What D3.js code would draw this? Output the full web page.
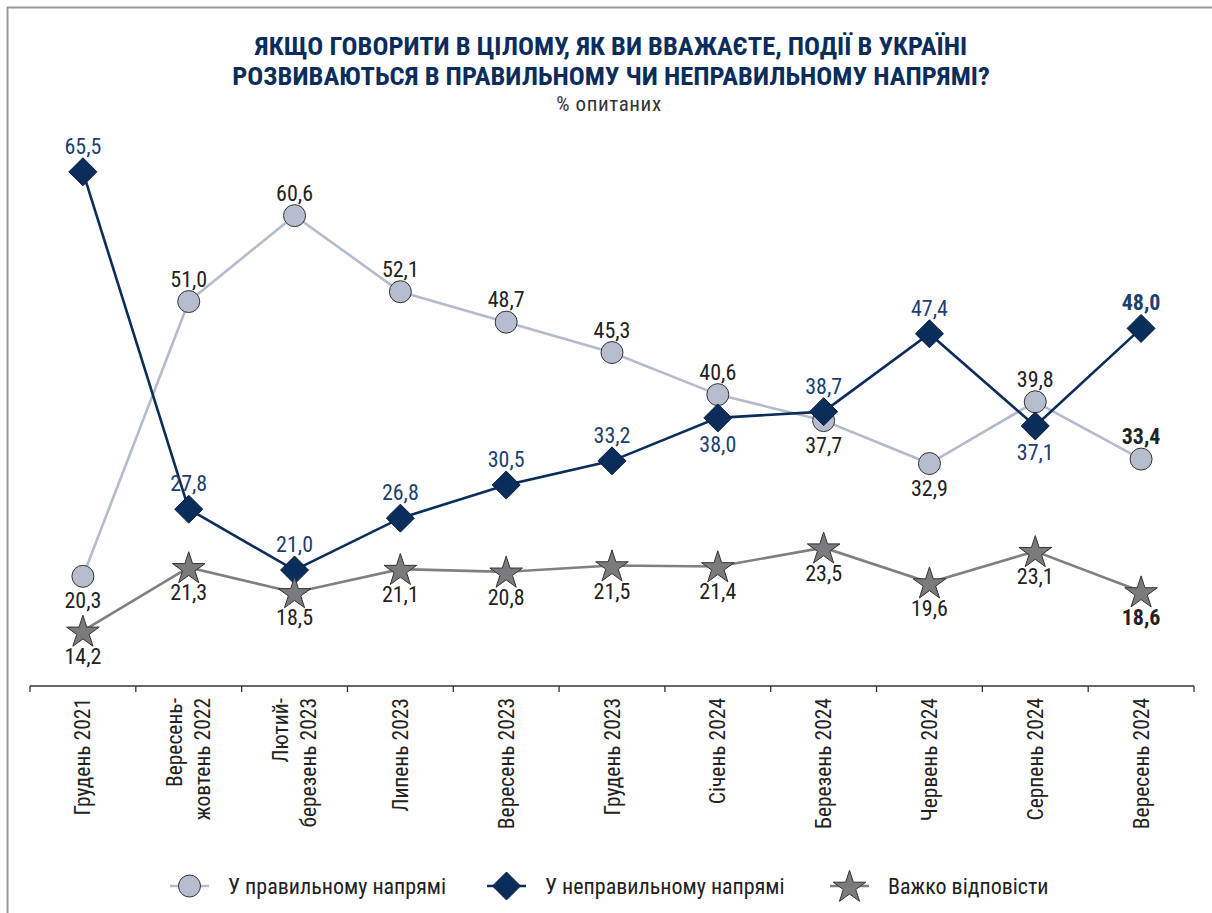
<!DOCTYPE html>
<html><head><meta charset="utf-8">
<script src="https://cdn.jsdelivr.net/npm/d3@7"></script>
<style>
body{margin:0;background:#fff;}
svg{display:block;}
text{font-family:"Liberation Sans Narrow","Arial Narrow","Roboto Condensed","DejaVu Sans Condensed",sans-serif;}
</style></head>
<body><svg id="c" width="1212" height="913"></svg>
<script>
const categories = [["Грудень 2021"],["Вересень-","жовтень 2022"],["Лютий-","березень 2023"],["Липень 2023"],["Вересень 2023"],["Грудень 2023"],["Січень 2024"],["Березень 2024"],["Червень 2024"],["Серпень 2024"],["Вересень 2024"]];
const rightDir = [20.3,51.0,60.6,52.1,48.7,45.3,40.6,37.7,32.9,39.8,33.4];
const wrongDir = [65.5,27.8,21.0,26.8,30.5,33.2,38.0,38.7,47.4,37.1,48.0];
const hardSay  = [14.2,21.3,18.5,21.1,20.8,21.5,21.4,23.5,19.6,23.1,18.6];
const rightPos = ["below","above","above","above","above","above","above","below","below","above","above"];
const wrongPos = ["above","above","above","above","above","above","below","above","above","below","above"];
const hardPos  = ["below","below","below","below","below","below","below","below","below","below","below"];
const seriesNames = ["У правильному напрямі","У неправильному напрямі","Важко відповісти"];

const svg = d3.select("#c");
const W=1212,H=913;
// border
svg.append("line").attr("x1",7).attr("x2",W).attr("y1",7.5).attr("y2",7.5).attr("stroke","#9a9a9a").attr("stroke-width",2);
svg.append("line").attr("x1",7.5).attr("x2",7.5).attr("y1",7).attr("y2",H).attr("stroke","#9a9a9a").attr("stroke-width",2);

// title
const navy="#0b2d5c";
svg.append("text").attr("x",611).attr("y",55).attr("text-anchor","middle").attr("font-size",26.5).attr("font-weight","bold").attr("fill",navy).text("ЯКЩО ГОВОРИТИ В ЦІЛОМУ, ЯК ВИ ВВАЖАЄТЕ, ПОДІЇ В УКРАЇНІ");
svg.append("text").attr("x",611).attr("y",85).attr("text-anchor","middle").attr("font-size",26.5).attr("font-weight","bold").attr("fill",navy).text("РОЗВИВАЮТЬСЯ В ПРАВИЛЬНОМУ ЧИ НЕПРАВИЛЬНОМУ НАПРЯМІ?");
svg.append("text").attr("x",609).attr("y",111).attr("text-anchor","middle").attr("font-size",21).attr("letter-spacing",0.6).attr("fill","#333").text("% опитаних");

const x = d3.scaleBand().domain(d3.range(categories.length)).range([30,1194]);
const y = d3.scaleLinear().domain([0,70]).range([758,758-70*8.95]);
const cx = i => x(i)+x.bandwidth()/2;

// axis
const ax = svg.append("g").attr("transform","translate(0,686)");
ax.append("line").attr("x1",30).attr("x2",1194).attr("stroke","#333").attr("stroke-width",1.3);
d3.range(categories.length+1).forEach(i=>{
  const xx = 30 + i*x.bandwidth();
  ax.append("line").attr("x1",xx).attr("x2",xx).attr("y1",0).attr("y2",6).attr("stroke","#333").attr("stroke-width",1.3);
});
categories.forEach((lines,i)=>{
  const g = ax.append("g").attr("transform",`translate(${cx(i)},12) rotate(-90)`);
  const n = lines.length;
  lines.forEach((l,j)=>{
    g.append("text").attr("x",0).attr("y",(j-(n-1)/2)*28+7.5).attr("text-anchor","end").attr("font-size",21.5).attr("fill","#222").text(l);
  });
});

const fmt = v => v.toFixed(1).replace(".",",");
const series = [
  {vals:rightDir,pos:rightPos,line:"#b4bbcc",fill:"#b6bdcf",type:"circle",lab:"#222",up:-15,down:32},
  {vals:wrongDir,pos:wrongPos,line:navy,fill:navy,type:"diamond",lab:"#1e3f6e",up:-18,down:34},
  {vals:hardSay,pos:hardPos,line:"#808082",fill:"#7b7b7d",type:"star",lab:"#222",up:-18,down:33}
];
const starPath = d3.symbol().type(d3.symbolStar).size(330);
function marker(g,type,fill){
  if(type==="circle") return g.append("circle").attr("r",11).attr("fill",fill).attr("stroke","#333").attr("stroke-width",1);
  if(type==="diamond") return g.append("path").attr("d","M0,-14L14,0L0,14L-14,0Z").attr("fill",fill).attr("stroke","#0a1f3d").attr("stroke-width",1);
  return g.append("path").attr("d",starPath()).attr("transform","translate(0,1.5)").attr("fill",fill).attr("stroke","#333").attr("stroke-width",1);
}
const line = d3.line().x((d,i)=>cx(i)).y(d=>y(d));
series.forEach(s=>{
  svg.append("path").attr("d",line(s.vals)).attr("fill","none").attr("stroke",s.line).attr("stroke-width",2.6);
});
series.forEach(s=>{
  s.vals.forEach((v,i)=>{
    const g = svg.append("g").attr("transform",`translate(${cx(i)},${y(v)})`);
    marker(g,s.type,s.fill);
  });
});
series.forEach(s=>{
  s.vals.forEach((v,i)=>{
    const last = i===s.vals.length-1;
    const dy = s.pos[i]==="above" ? s.up : s.down;
    svg.append("text").attr("x",cx(i)).attr("y",y(v)+dy).attr("text-anchor","middle")
      .attr("font-size",22).attr("font-weight",last?"bold":"normal").attr("fill",s.lab).text(fmt(v));
  });
});

// legend
const legX=[170,487,830];
series.forEach((s,k)=>{
  const g = svg.append("g").attr("transform",`translate(${legX[k]},886)`);
  g.append("line").attr("x1",0).attr("x2",39).attr("stroke",s.line).attr("stroke-width",2.6);
  const mg = g.append("g").attr("transform","translate(19.5,0)");
  marker(mg,s.type,s.fill);
  g.append("text").attr("x",58).attr("y",8).attr("font-size",22).attr("fill","#222").text(seriesNames[k]);
});
</script></body></html>
